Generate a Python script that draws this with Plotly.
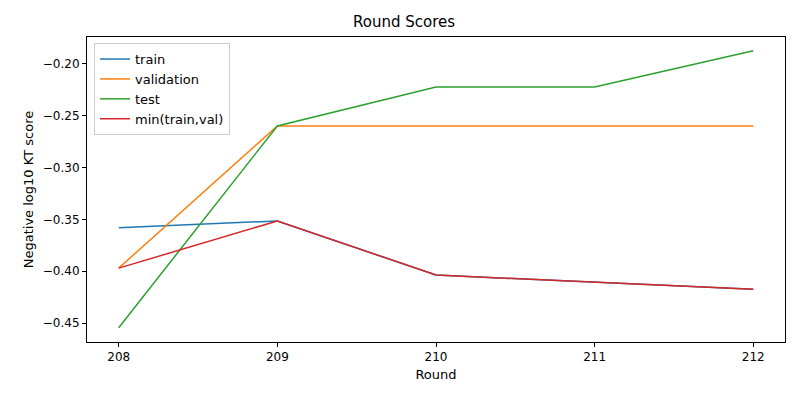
import plotly.graph_objects as go

rounds = [208, 209, 210, 211, 212]
train = [-0.358, -0.3515, -0.4037, -0.4104, -0.4175]
validation = [-0.397, -0.2598, -0.2598, -0.2598, -0.2598]
test = [-0.4545, -0.2598, -0.2222, -0.2222, -0.1873]
min_tv = [-0.397, -0.3515, -0.4037, -0.4104, -0.4175]

names = ["train", "validation", "test", "min(train,val)"]
colors = ["#1f77b4", "#ff7f0e", "#2ca02c", "#d62728"]
series = [train, validation, test, min_tv]

fig = go.Figure()
for n, c, s in zip(names, colors, series):
    fig.add_trace(go.Scatter(x=rounds, y=s, mode="lines", name=n,
                             line=dict(color=c, width=1.5)))

ax = dict(showgrid=False, zeroline=False, showline=True, mirror=True,
          linecolor="black", linewidth=1, ticks="outside", ticklen=4,
          tickcolor="black", tickfont=dict(size=12, color="black"))
fig.update_layout(
    width=792, height=392, plot_bgcolor="white", paper_bgcolor="white",
    font=dict(family="DejaVu Sans", color="black"),
    margin=dict(l=79, r=15, t=29, b=58),
    title=dict(text="Round Scores", x=0.5, xanchor="center", y=0.964,
               yanchor="middle", font=dict(size=15)),
    xaxis=dict(**ax, range=[207.8, 212.2], tickvals=rounds,
               title=dict(text="Round", font=dict(size=13), standoff=6)),
    yaxis=dict(**ax, range=[-0.4683, -0.174], dtick=0.05, tickformat=".2f",
               title=dict(text="Negative log10 KT score", font=dict(size=13), standoff=6)),
    legend=dict(x=0.01, y=0.98, xanchor="left", yanchor="top",
                bordercolor="#cccccc", borderwidth=1, bgcolor="white",
                font=dict(size=13)),
)
fig.write_html("out.html")
